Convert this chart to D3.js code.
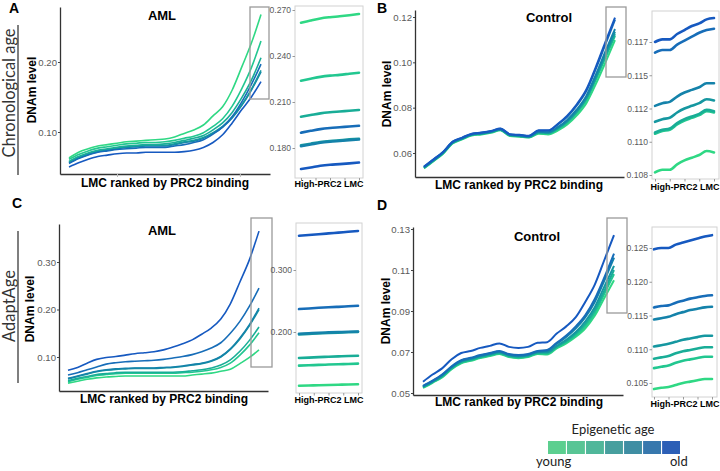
<!DOCTYPE html>
<html><head><meta charset="utf-8">
<script src="https://cdn.jsdelivr.net/npm/d3@7"></script>
<style>body{margin:0;background:#fff}svg{display:block}</style>
</head><body>
<svg id="chart" width="720" height="471"></svg>
<script>
// ---------- DATA ----------
const ageGroups = ["young","g2","g3","g4","g5","g6","old"];
const lineColors = ["#2fd884","#22c790","#19ad97","#1597a0","#1482aa","#176db8","#1659c0"];
const legendColors = ["#5ccf8f","#58c595","#50b79a","#479f9e","#3f8ea3","#3778ad","#2c5fb6"];
const rankPct = [0,5,10,15,20,25,30,35,40,45,50,55,60,65,70,75,80,85,90,95,100];
const insetIdx7 = [0,1,2,3,4,5,6];
const insetIdx9 = [0,1,2,3,4,5,6,7,8];

// Panel A: AML, chronological age (index = age group young..old)
const aMainValues = [
  [0.063,0.071,0.076,0.080,0.082,0.084,0.086,0.087,0.088,0.089,0.090,0.093,0.098,0.103,0.110,0.123,0.136,0.160,0.193,0.227,0.268],
  [0.061,0.068,0.073,0.077,0.079,0.081,0.083,0.084,0.085,0.085,0.086,0.088,0.091,0.094,0.099,0.108,0.119,0.137,0.162,0.192,0.230],
  [0.058,0.065,0.070,0.074,0.076,0.078,0.080,0.081,0.082,0.082,0.083,0.085,0.088,0.091,0.095,0.103,0.113,0.128,0.149,0.174,0.206],
  [0.057,0.064,0.069,0.073,0.075,0.077,0.079,0.080,0.081,0.081,0.081,0.083,0.086,0.088,0.092,0.099,0.108,0.121,0.139,0.161,0.188],
  [0.056,0.063,0.068,0.072,0.074,0.076,0.078,0.079,0.080,0.080,0.080,0.082,0.085,0.087,0.091,0.098,0.107,0.120,0.138,0.160,0.186],
  [0.055,0.062,0.067,0.071,0.073,0.075,0.076,0.077,0.078,0.078,0.078,0.080,0.082,0.085,0.089,0.097,0.107,0.122,0.143,0.168,0.197],
  [0.050,0.056,0.061,0.065,0.067,0.069,0.070,0.070,0.071,0.071,0.071,0.071,0.072,0.074,0.078,0.085,0.096,0.113,0.132,0.150,0.172]
];
const aInsetValues = [
  [0.2617,0.2632,0.2645,0.2653,0.2659,0.2666,0.2674],
  [0.2239,0.2252,0.2264,0.2272,0.2277,0.2284,0.2291],
  [0.2004,0.2015,0.2026,0.2033,0.2038,0.2043,0.2048],
  [0.1817,0.1828,0.1839,0.1846,0.1851,0.1856,0.1860],
  [0.1812,0.1823,0.1834,0.1841,0.1846,0.1851,0.1855],
  [0.1900,0.1912,0.1923,0.1930,0.1935,0.1940,0.1945],
  [0.1663,0.1673,0.1684,0.1691,0.1695,0.1700,0.1705]
];
const aMainTicks = [0.10,0.20], aMainTickLabels = ["0.10","0.20"];
const aInsetTicks = [0.18,0.21,0.24,0.27], aInsetTickLabels = ["0.180","0.210","0.240","0.270"];

// Panel B: Control, chronological age
const bMainValues = [
  [0.0532,0.0564,0.0597,0.0642,0.0660,0.0677,0.0682,0.0689,0.0700,0.0675,0.0672,0.0668,0.0685,0.0682,0.0699,0.0726,0.0766,0.0820,0.0905,0.1000,0.1098],
  [0.0534,0.0566,0.0599,0.0644,0.0662,0.0679,0.0684,0.0691,0.0702,0.0677,0.0674,0.0670,0.0688,0.0686,0.0705,0.0734,0.0777,0.0834,0.0924,0.1021,0.1117],
  [0.0535,0.0567,0.0600,0.0645,0.0663,0.0680,0.0685,0.0692,0.0703,0.0678,0.0675,0.0671,0.0690,0.0688,0.0708,0.0738,0.0782,0.0840,0.0931,0.1029,0.1125],
  [0.0536,0.0568,0.0601,0.0646,0.0664,0.0681,0.0686,0.0693,0.0704,0.0679,0.0676,0.0672,0.0692,0.0690,0.0711,0.0742,0.0787,0.0846,0.0938,0.1038,0.1135],
  [0.0537,0.0569,0.0602,0.0647,0.0665,0.0682,0.0687,0.0694,0.0705,0.0680,0.0677,0.0673,0.0694,0.0692,0.0714,0.0746,0.0792,0.0852,0.0946,0.1048,0.1147],
  [0.0539,0.0571,0.0604,0.0649,0.0667,0.0684,0.0689,0.0696,0.0707,0.0682,0.0679,0.0675,0.0698,0.0698,0.0725,0.0760,0.0810,0.0873,0.0972,0.1080,0.1188],
  [0.0540,0.0572,0.0605,0.0650,0.0668,0.0685,0.0690,0.0697,0.0708,0.0683,0.0680,0.0676,0.0700,0.0700,0.0728,0.0765,0.0815,0.0880,0.0980,0.1090,0.1197]
];
const bInsetValues = [
  [0.1077,0.1079,0.1079,0.1083,0.1086,0.1088,0.1090,0.1093,0.1092],
  [0.1106,0.1108,0.1109,0.1113,0.1116,0.1118,0.1120,0.1123,0.1122],
  [0.1107,0.1109,0.1110,0.1114,0.1117,0.1119,0.1121,0.1124,0.1123],
  [0.1115,0.1117,0.1118,0.1122,0.1125,0.1127,0.1129,0.1132,0.1131],
  [0.1127,0.1129,0.1130,0.1134,0.1137,0.1139,0.1141,0.1144,0.1144],
  [0.1167,0.1169,0.1169,0.1173,0.1176,0.1179,0.1182,0.1184,0.1185],
  [0.1175,0.1177,0.1177,0.1181,0.1184,0.1187,0.1189,0.1192,0.1193]
];
const bMainTicks = [0.06,0.08,0.10,0.12], bMainTickLabels = ["0.06","0.08","0.10","0.12"];
const bInsetTicks = [0.1075,0.110,0.1125,0.115,0.1175], bInsetTickLabels = ["0.108","0.110","0.112","0.115","0.117"];

// Panel C: AML, AdaptAge
const cMainValues = [
  [0.045,0.049,0.053,0.056,0.058,0.059,0.060,0.060,0.060,0.060,0.060,0.060,0.060,0.062,0.064,0.066,0.070,0.074,0.086,0.099,0.115],
  [0.048,0.053,0.057,0.061,0.063,0.065,0.066,0.066,0.066,0.066,0.066,0.066,0.067,0.068,0.070,0.073,0.078,0.087,0.104,0.125,0.151],
  [0.050,0.055,0.059,0.063,0.065,0.067,0.068,0.068,0.068,0.068,0.068,0.068,0.069,0.071,0.073,0.077,0.083,0.094,0.112,0.135,0.163],
  [0.054,0.059,0.064,0.069,0.072,0.074,0.075,0.076,0.076,0.076,0.077,0.078,0.080,0.083,0.086,0.091,0.100,0.116,0.138,0.166,0.200],
  [0.055,0.060,0.065,0.070,0.073,0.075,0.076,0.077,0.077,0.077,0.078,0.079,0.081,0.084,0.087,0.092,0.101,0.117,0.140,0.168,0.203],
  [0.062,0.067,0.073,0.079,0.085,0.088,0.090,0.091,0.092,0.093,0.095,0.098,0.101,0.105,0.111,0.119,0.130,0.150,0.175,0.207,0.245],
  [0.072,0.078,0.087,0.095,0.099,0.101,0.104,0.107,0.109,0.111,0.115,0.121,0.128,0.136,0.148,0.161,0.180,0.212,0.258,0.305,0.365]
];
const cInsetValues = [
  [0.1134,0.1138,0.1142,0.1146,0.1150,0.1154,0.1157],
  [0.1457,0.1463,0.1469,0.1475,0.1480,0.1485,0.1490],
  [0.1580,0.1587,0.1594,0.1601,0.1607,0.1613,0.1618],
  [0.1962,0.1970,0.1978,0.1984,0.1990,0.1996,0.2002],
  [0.1972,0.1980,0.1988,0.1994,0.1999,0.2004,0.2008],
  [0.2370,0.2380,0.2390,0.2398,0.2406,0.2415,0.2424],
  [0.3553,0.3565,0.3577,0.3590,0.3603,0.3617,0.3630]
];
const cMainTicks = [0.10,0.20,0.30], cMainTickLabels = ["0.10","0.20","0.30"];
const cInsetTicks = [0.20,0.30], cInsetTickLabels = ["0.200","0.300"];

// Panel D: Control, AdaptAge
const dMainValues = [
  [0.0525,0.0550,0.0576,0.0616,0.0645,0.0657,0.0670,0.0680,0.0690,0.0675,0.0670,0.0675,0.0690,0.0688,0.0718,0.0742,0.0774,0.0816,0.0878,0.0965,0.1050],
  [0.0527,0.0552,0.0579,0.0619,0.0648,0.0660,0.0673,0.0683,0.0693,0.0678,0.0673,0.0678,0.0693,0.0692,0.0722,0.0748,0.0782,0.0828,0.0892,0.0985,0.1080],
  [0.0529,0.0554,0.0582,0.0622,0.0651,0.0663,0.0676,0.0686,0.0696,0.0681,0.0676,0.0681,0.0696,0.0696,0.0726,0.0753,0.0790,0.0838,0.0905,0.1000,0.1100],
  [0.0531,0.0556,0.0585,0.0625,0.0654,0.0666,0.0679,0.0689,0.0699,0.0684,0.0679,0.0684,0.0699,0.0700,0.0730,0.0760,0.0798,0.0850,0.0920,0.1020,0.1120],
  [0.0533,0.0558,0.0588,0.0628,0.0657,0.0669,0.0682,0.0692,0.0702,0.0687,0.0682,0.0687,0.0702,0.0706,0.0740,0.0773,0.0815,0.0870,0.0945,0.1050,0.1160],
  [0.0535,0.0560,0.0590,0.0630,0.0660,0.0672,0.0685,0.0695,0.0705,0.0690,0.0685,0.0690,0.0705,0.0710,0.0745,0.0780,0.0825,0.0880,0.0960,0.1065,0.1180],
  [0.0555,0.0590,0.0620,0.0665,0.0695,0.0705,0.0720,0.0730,0.0742,0.0725,0.0720,0.0725,0.0745,0.0748,0.0790,0.0825,0.0870,0.0945,0.1030,0.1150,0.1270]
];
const dInsetValues = [
  [0.1041,0.1043,0.1044,0.1047,0.1050,0.1052,0.1054,0.1056,0.1056],
  [0.1072,0.1074,0.1076,0.1080,0.1083,0.1085,0.1087,0.1089,0.1089],
  [0.1086,0.1088,0.1090,0.1094,0.1097,0.1099,0.1101,0.1103,0.1103],
  [0.1104,0.1106,0.1108,0.1111,0.1114,0.1116,0.1118,0.1120,0.1120],
  [0.1144,0.1146,0.1148,0.1152,0.1155,0.1158,0.1160,0.1162,0.1163],
  [0.1162,0.1164,0.1165,0.1169,0.1172,0.1175,0.1177,0.1179,0.1180],
  [0.1248,0.1250,0.1250,0.1255,0.1258,0.1261,0.1264,0.1267,0.1269]
];
const dMainTicks = [0.05,0.07,0.09,0.11,0.13], dMainTickLabels = ["0.05","0.07","0.09","0.11","0.13"];
const dInsetTicks = [0.105,0.110,0.115,0.120,0.125], dInsetTickLabels = ["0.105","0.110","0.115","0.120","0.125"];

const rowLabels = ["Chronological age","AdaptAge"];
const panelLetters = ["A","B","C","D"];
const panelTitles = ["AML","Control","AML","Control"];
const xLabelMain = "LMC ranked by PRC2 binding";
const xLabelInset = "High-PRC2 LMC";
const yLabel = "DNAm level";
const legendTitle = "Epigenetic age";

// ---------- DRAWING ----------
const svg = d3.select("#chart");
const SANS = "'Liberation Sans', Arial, sans-serif";
const LIGHT = "Lato, 'Open Sans', sans-serif";

function makeY(ref, top, bottom) {
  const s0 = d3.scaleLinear().domain([ref[0][0], ref[1][0]]).range([ref[0][1], ref[1][1]]);
  return d3.scaleLinear().domain([s0.invert(bottom), s0.invert(top)]).range([bottom, top]);
}

function mainPanel(c) {
  const g = svg.append("g");
  const y = makeY(c.yRef, c.top, c.bottom);
  const x = d3.scaleLinear().domain([0, 100]).range(c.dataX);
  const xAx = d3.scaleLinear().domain([x.invert(c.left), x.invert(c.right)]).range([c.left, c.right]);
  const line = d3.line().x((d, i) => x(rankPct[i])).y(d => y(d)).curve(d3.curveMonotoneX);
  c.order.forEach(k => {
    g.append("path").attr("d", line(c.values[k])).attr("fill", "none")
      .attr("stroke", lineColors[k]).attr("stroke-width", c.sw).attr("stroke-linejoin", "round");
  });
  const ya = g.append("g").attr("transform", `translate(${c.left},0)`)
    .call(d3.axisLeft(y).tickValues(c.ticks).tickFormat((d, i) => c.labels[i]).tickSize(2).tickSizeOuter(0).tickPadding(1));
  ya.select(".domain").attr("stroke", "#333").attr("stroke-width", 1.3);
  ya.selectAll(".tick line").attr("stroke", "#444");
  ya.selectAll(".tick text").attr("fill", "#5a5a5a").style("font-family", SANS).style("font-size", "9.6px");
  const xa = g.append("g").attr("transform", `translate(0,${c.bottom})`)
    .call(d3.axisBottom(xAx).tickValues(c.xTicks || []).tickFormat("").tickSize(3).tickSizeOuter(0));
  xa.select(".domain").attr("stroke", "#333").attr("stroke-width", 1.3);
  xa.selectAll(".tick line").attr("stroke", "#bbb");
  // box marking high-PRC2 LMC
  g.append("rect").attr("x", c.box[0]).attr("y", c.box[1]).attr("width", c.box[2] - c.box[0]).attr("height", c.box[3] - c.box[1])
    .attr("fill", "none").attr("stroke", "#9a9a9a").attr("stroke-width", 1.3);
  g.append("text").attr("x", c.titleX).attr("y", c.titleY).attr("text-anchor", "middle")
    .style("font-family", SANS).style("font-size", "13px").style("font-weight", "bold").text(c.title);
  g.append("text").attr("x", c.xlabX).attr("y", c.xlabY).attr("text-anchor", "middle")
    .style("font-family", SANS).style("font-size", "12px").style("font-weight", "bold").text(xLabelMain);
  g.append("text").attr("transform", `translate(${c.ylabX},${c.ylabY}) rotate(-90)`).attr("text-anchor", "middle")
    .style("font-family", SANS).style("font-size", "12px").style("font-weight", "bold").text(yLabel);
  g.append("text").attr("x", c.letter[0]).attr("y", c.letter[1])
    .style("font-family", SANS).style("font-size", "14px").style("font-weight", "bold").text(c.letterText);
}

function insetPanel(c) {
  const g = svg.append("g");
  const y = makeY(c.yRef, c.top, c.bottom);
  const n = c.idx.length;
  const x = d3.scaleLinear().domain([0, n - 1]).range(c.dataX);
  g.append("rect").attr("x", c.left).attr("y", c.top).attr("width", c.right - c.left).attr("height", c.bottom - c.top)
    .attr("fill", "none").attr("stroke", "#d2d2d2").attr("stroke-width", 1);
  const line = d3.line().x((d, i) => x(c.idx[i])).y(d => y(d)).curve(d3.curveMonotoneX);
  c.order.forEach(k => {
    g.append("path").attr("d", line(c.values[k])).attr("fill", "none")
      .attr("stroke", lineColors[k]).attr("stroke-width", 2.6).attr("stroke-linecap", "round");
  });
  const ya = g.append("g").attr("transform", `translate(${c.left},0)`)
    .call(d3.axisLeft(y).tickValues(c.ticks).tickFormat((d, i) => c.labels[i]).tickSize(2.5).tickSizeOuter(0).tickPadding(1.5));
  ya.select(".domain").remove();
  ya.selectAll(".tick line").attr("stroke", "#999");
  ya.selectAll(".tick text").attr("fill", "#5a5a5a").style("font-family", SANS).style("font-size", "8.6px");
  const xt = d3.scaleLinear().domain([0, 4]).range(c.dataX);
  const xa = g.append("g").attr("transform", `translate(0,${c.bottom})`)
    .call(d3.axisBottom(xt).tickValues([0, 1, 2, 3, 4]).tickFormat("").tickSize(2.5).tickSizeOuter(0));
  xa.select(".domain").remove();
  xa.selectAll(".tick line").attr("stroke", "#999");
  g.append("text").attr("x", c.xlabX).attr("y", c.xlabY).attr("text-anchor", "middle")
    .style("font-family", SANS).style("font-size", "9px").style("font-weight", "bold").text(xLabelInset);
}

// A
mainPanel({left:60,right:270,top:7,bottom:174,dataX:[69,261],yRef:[[0.10,132],[0.20,62]],
  ticks:aMainTicks,labels:aMainTickLabels,values:aMainValues,order:[6,4,3,5,2,1,0],sw:1.6,
  xTicks:[25,57,89],box:[250,7,269,99],title:panelTitles[0],titleX:162,titleY:20,
  xlabX:165,xlabY:187,ylabX:36,ylabY:90,letter:[9,13],letterText:panelLetters[0]});
insetPanel({left:295,right:363,top:6,bottom:178,dataX:[301,359],yRef:[[0.18,148],[0.27,10]],
  ticks:aInsetTicks,labels:aInsetTickLabels,values:aInsetValues,idx:insetIdx7,order:[0,1,2,3,4,5,6],
  xlabX:329,xlabY:187});
// B
mainPanel({left:415,right:624,top:10,bottom:177,dataX:[424,615],yRef:[[0.06,153],[0.12,17]],
  ticks:bMainTicks,labels:bMainTickLabels,values:bMainValues,order:[0,1,2,3,4,5,6],sw:2,
  box:[606,7,626,77],title:panelTitles[1],titleX:549,titleY:22,
  xlabX:519,xlabY:189,ylabX:391,ylabY:94,letter:[377,13],letterText:panelLetters[1]});
insetPanel({left:652,right:719,top:11,bottom:179,dataX:[655,714],yRef:[[0.1075,175],[0.1175,42]],
  ticks:bInsetTicks,labels:bInsetTickLabels,values:bInsetValues,idx:insetIdx9,order:[0,1,2,3,4,5,6],
  xlabX:685,xlabY:190});
// C
mainPanel({left:59,right:268,top:224,bottom:391,dataX:[68,259],yRef:[[0.10,357],[0.30,262]],
  ticks:cMainTicks,labels:cMainTickLabels,values:cMainValues,order:[0,1,2,3,4,5,6],sw:1.6,
  box:[251,218,272,367],title:panelTitles[2],titleX:162,titleY:235,
  xlabX:164,xlabY:403,ylabX:34,ylabY:309,letter:[12,208],letterText:panelLetters[2]});
insetPanel({left:296,right:362,top:223,bottom:393,dataX:[299,358],yRef:[[0.20,332],[0.30,270]],
  ticks:cInsetTicks,labels:cInsetTickLabels,values:cInsetValues,idx:insetIdx7,order:[0,1,2,3,4,5,6],
  xlabX:329,xlabY:403});
// D
mainPanel({left:413,right:623,top:227,bottom:395,dataX:[423,614],yRef:[[0.05,393],[0.13,229]],
  ticks:dMainTicks,labels:dMainTickLabels,values:dMainValues,order:[0,1,2,3,4,5,6],sw:2,
  box:[607,218,627,313],title:panelTitles[3],titleX:537,titleY:241,
  xlabX:519,xlabY:406,ylabX:390,ylabY:311,letter:[377,210],letterText:panelLetters[3]});
insetPanel({left:652,right:717,top:227,bottom:397,dataX:[654,712],yRef:[[0.105,383],[0.125,248]],
  ticks:dInsetTicks,labels:dInsetTickLabels,values:dInsetValues,idx:insetIdx9,order:[0,1,2,3,4,5,6],
  xlabX:685,xlabY:407});

// Row labels with bars
[[rowLabels[0], 93, 16.5, 25, 175], [rowLabels[1], 306, 16.5, 231, 383]].forEach(([t, cy, fs, y1, y2]) => {
  svg.append("text").attr("transform", `translate(15,${cy}) rotate(-90)`).attr("text-anchor", "middle")
    .style("font-family", LIGHT).style("font-size", fs + "px").attr("fill", "#333").text(t);
  svg.append("line").attr("x1", 18).attr("x2", 18).attr("y1", y1).attr("y2", y2)
    .attr("stroke", "#555").attr("stroke-width", 1.5);
});

// Legend
const lg = svg.append("g");
const lx = d3.scaleBand().domain(ageGroups).range([548, 680]).paddingInner(0.06);
lg.selectAll("rect").data(ageGroups).join("rect")
  .attr("x", d => lx(d)).attr("y", 441).attr("width", lx.bandwidth()).attr("height", 13)
  .attr("fill", (d, i) => legendColors[i]);
lg.append("text").attr("x", 613).attr("y", 434).attr("text-anchor", "middle")
  .style("font-family", LIGHT).style("font-size", "13px").attr("fill", "#222").text(legendTitle);
lg.append("text").attr("x", 536).attr("y", 466)
  .style("font-family", LIGHT).style("font-size", "13px").attr("fill", "#222").text(ageGroups[0]);
lg.append("text").attr("x", 670).attr("y", 466)
  .style("font-family", LIGHT).style("font-size", "13px").attr("fill", "#222").text(ageGroups[6]);
</script>
</body></html>
